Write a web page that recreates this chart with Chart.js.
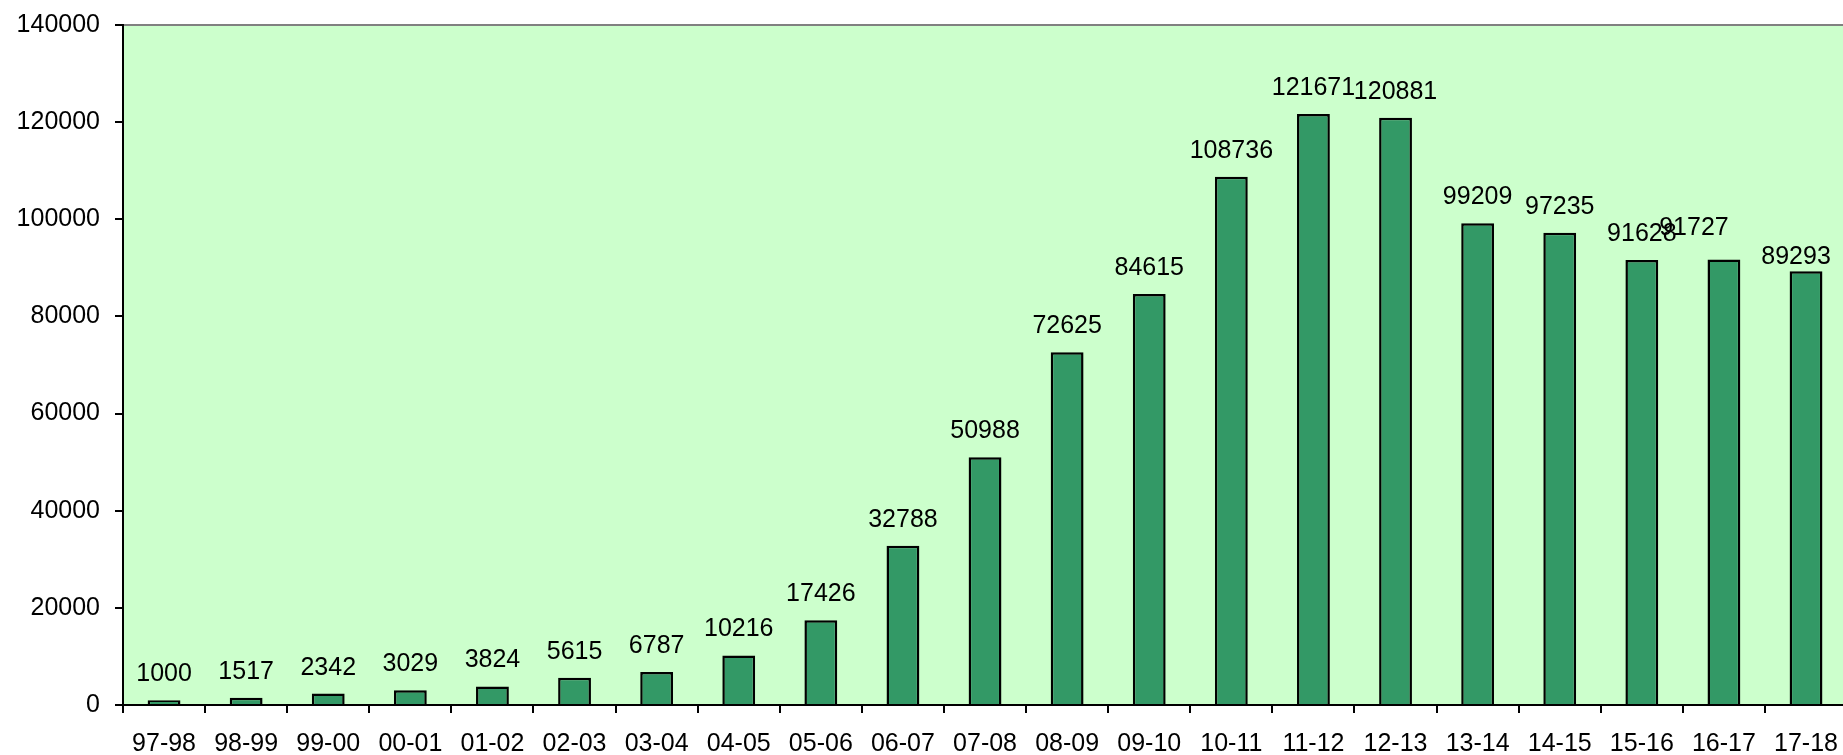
<!DOCTYPE html>
<html>
<head>
<meta charset="utf-8">
<script src="https://cdn.jsdelivr.net/npm/chart.js@4"></script>
<style>
html,body{margin:0;padding:0;background:#fff;overflow:hidden;width:1843px;height:755px;}
#wrap{position:absolute;left:0;top:-5px;width:1854px;height:760px;}
</style>
</head>
<body>
<div id="wrap"><canvas id="c" width="1854" height="760"></canvas></div>
<script>
const categories = ["97-98","98-99","99-00","00-01","01-02","02-03","03-04","04-05","05-06","06-07","07-08","08-09","09-10","10-11","11-12","12-13","13-14","14-15","15-16","16-17","17-18"];
const values = [1000,1517,2342,3029,3824,5615,6787,10216,17426,32788,50988,72625,84615,108736,121671,120881,99209,97235,91628,91727,89293];
const yTicks = [0,20000,40000,60000,80000,100000,120000,140000];

const FONT = "'Liberation Sans', Arial, sans-serif";
// label nudges (pixels) as placed in the original chart
const labelNudge = {19: [-30, -5], 20: [-10, 12]};

const bgPlugin = {
  id: 'bg',
  beforeDraw(chart) {
    const {ctx, chartArea: a} = chart;
    ctx.save();
    ctx.fillStyle = '#CCFFCC';
    ctx.fillRect(a.left, a.top, a.right - a.left, a.bottom - a.top);
    ctx.strokeStyle = '#808080';
    ctx.lineWidth = 2;
    ctx.beginPath();
    ctx.moveTo(a.left, a.top);
    ctx.lineTo(a.right, a.top);
    ctx.lineTo(a.right, a.bottom);
    ctx.stroke();
    ctx.restore();
  }
};

const labelPlugin = {
  id: 'vals',
  afterDatasetsDraw(chart) {
    const {ctx} = chart;
    const meta = chart.getDatasetMeta(0);
    ctx.save();
    ctx.font = '25px ' + FONT;
    ctx.fillStyle = '#000';
    ctx.textAlign = 'center';
    ctx.textBaseline = 'alphabetic';
    meta.data.forEach((bar, i) => {
      const n = labelNudge[i] || [0, 0];
      ctx.fillText(String(values[i]), bar.x + n[0], bar.y - 19 + n[1]);
    });
    ctx.restore();
  }
};

new Chart(document.getElementById('c'), {
  type: 'bar',
  data: {
    labels: categories,
    datasets: [{
      data: values,
      backgroundColor: '#339966',
      borderColor: '#000000',
      borderWidth: 2.5,
      categoryPercentage: 1.0,
      barPercentage: 0.4
    }]
  },
  options: {
    responsive: false,
    animation: false,
    devicePixelRatio: 1,
    layout: {padding: {top: 25, left: 0, right: 0, bottom: 0}},
    plugins: {legend: {display: false}, tooltip: {enabled: false}},
    scales: {
      x: {
        offset: true,
        grid: {offset: true, drawOnChartArea: false, drawTicks: true, tickLength: 8, color: '#000', lineWidth: 2},
        border: {display: true, color: '#000', width: 2},
        ticks: {font: {family: FONT, size: 25}, color: '#000', padding: 16, maxRotation: 0, autoSkip: false},
        afterFit(scale) { scale.height = 50; }
      },
      y: {
        min: 0, max: 140000,
        afterBuildTicks(scale) { scale.ticks = yTicks.map(v => ({value: v})); },
        grid: {drawOnChartArea: false, drawTicks: true, tickLength: 8, color: '#000', lineWidth: 2},
        border: {display: true, color: '#000', width: 2},
        ticks: {font: {family: FONT, size: 25}, color: '#000', padding: 15, callback: v => String(v)},
        afterFit(scale) { scale.width = 123; }
      }
    }
  },
  plugins: [bgPlugin, labelPlugin]
});
</script>
</body>
</html>
